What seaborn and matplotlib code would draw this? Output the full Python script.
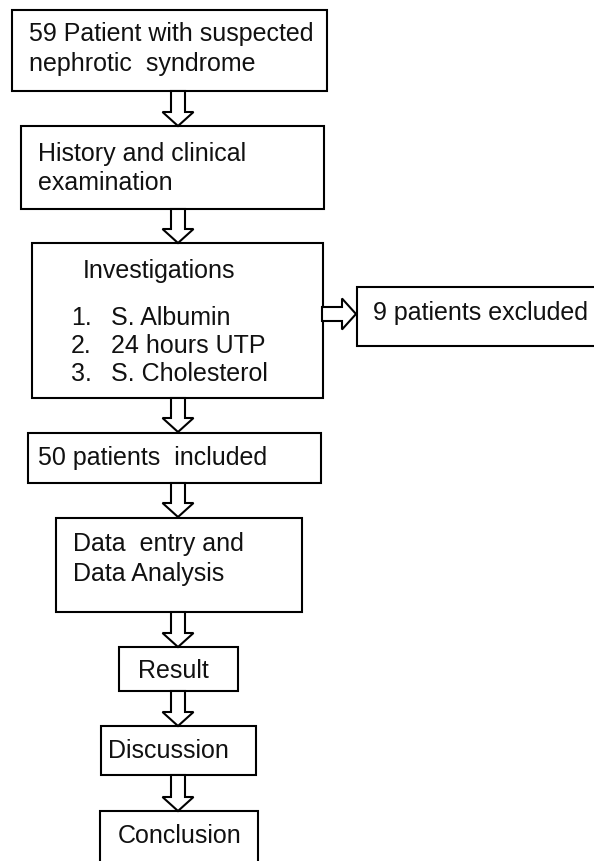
import matplotlib
matplotlib.use("Agg")
import matplotlib.pyplot as plt
from matplotlib.patches import Rectangle, Polygon
import seaborn as sns

sns.set_theme(style="white")
plt.rcParams['font.family'] = ['Liberation Sans', 'DejaVu Sans']

# ---- content ----
box_texts = [
    ["59 Patient with suspected", "nephrotic  syndrome"],
    ["History and clinical", "examination"],
    ["Investigations"],
    ["9 patients excluded"],
    ["50 patients  included"],
    ["Data  entry and", "Data Analysis"],
    ["Result"],
    ["Discussion"],
    ["Conclusion"],
]
inv_numbers = ["1.", "2.", "3."]
inv_items = ["S. Albumin", "24 hours UTP", "S. Cholesterol"]

# ---- layout (pixel coordinates, y downward) ----
box_rects = [  # x0, y0, x1, y1
    (12, 10, 327, 91),
    (21, 126, 324, 209),
    (32, 243, 323, 398),
    (357, 287, 610, 346),
    (28, 433, 321, 483),
    (56, 518, 302, 612),
    (119, 647, 238, 691),
    (101, 726, 256, 775),
    (100, 811, 258, 880),
]
text_x = [29, 38, 83, 373, 38, 73, 138, 108, 118]
text_y = [[34, 64], [154, 183], [271], [313], [458], [544, 574], [671], [751], [836]]
inv_num_x, inv_item_x = 71, 111
inv_y = [318, 346, 374]

v_arrows = [(91, 126), (209, 243), (398, 432), (483, 517), (612, 647), (691, 726), (775, 811)]
arrow_cx = 178
h_arrow = (322, 356, 314)  # x start, tip x, center y

W, H = 594, 861
fig = plt.figure(figsize=(W / 100, H / 100), dpi=100)
ax = fig.add_axes([0, 0, 1, 1])
ax.set_xlim(0, W)
ax.set_ylim(H, 0)
ax.axis("off")

FS = 18
LW = 1.5

for (x0, y0, x1, y1) in box_rects:
    ax.add_patch(Rectangle((x0, y0), x1 - x0, y1 - y0, fill=True, facecolor="white",
                           edgecolor="black", linewidth=LW, zorder=2))

for lines, x, ys in zip(box_texts, text_x, text_y):
    for line, y in zip(lines, ys):
        ax.text(x, y, line, fontsize=FS, ha="left", va="center", color="#111111", zorder=4)

for n, item, y in zip(inv_numbers, inv_items, inv_y):
    ax.text(inv_num_x, y, n, fontsize=FS, ha="left", va="center", color="#111111", zorder=4)
    ax.text(inv_item_x, y, item, fontsize=FS, ha="left", va="center", color="#111111", zorder=4)

sw, hw, hl = 7, 15.5, 14
for (ya, yb) in v_arrows:
    pts = [(arrow_cx - sw, ya), (arrow_cx + sw, ya), (arrow_cx + sw, yb - hl),
           (arrow_cx + hw, yb - hl), (arrow_cx, yb), (arrow_cx - hw, yb - hl),
           (arrow_cx - sw, yb - hl)]
    ax.add_patch(Polygon(pts, closed=True, facecolor="white", edgecolor="black",
                         linewidth=LW, zorder=3, joinstyle="miter"))

xa, xt, yc = h_arrow
pts = [(xa, yc - sw), (xt - hl, yc - sw), (xt - hl, yc - hw), (xt, yc),
       (xt - hl, yc + hw), (xt - hl, yc + sw), (xa, yc + sw)]
ax.add_patch(Polygon(pts, closed=True, facecolor="white", edgecolor="black",
                     linewidth=LW, zorder=3, joinstyle="miter"))

fig.savefig("out.png", dpi=100, facecolor="white")
